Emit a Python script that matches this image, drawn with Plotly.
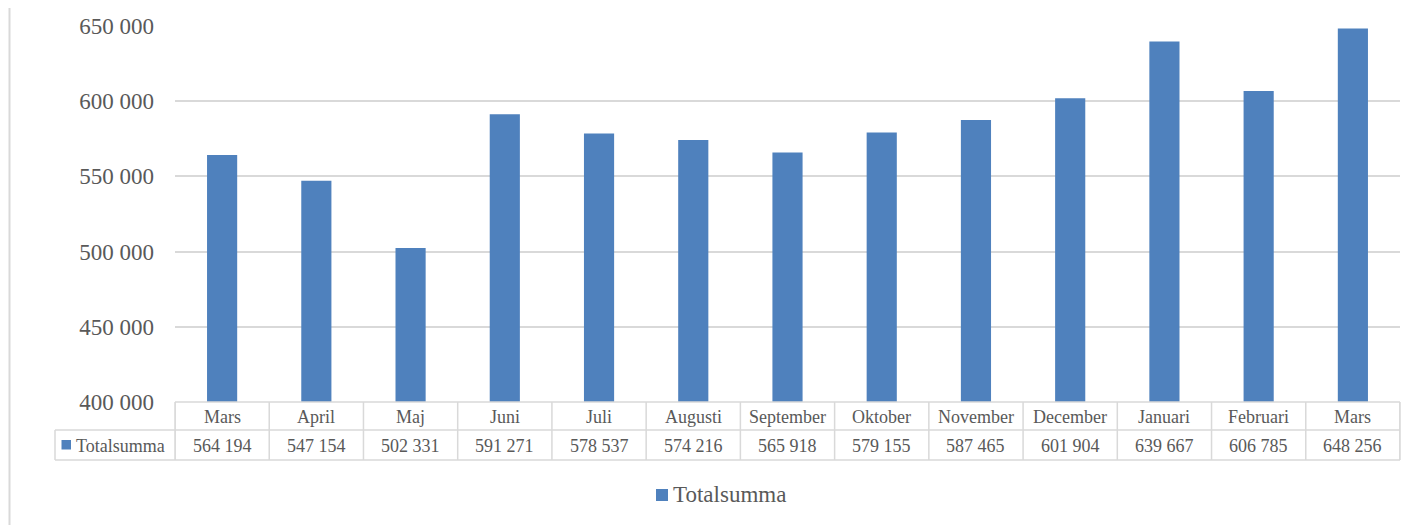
# Stapeldiagram med datatabell (Excel-stil) i Plotly.
import plotly.graph_objects as go

W, H = 1422, 525
OFF = 8  # sidans body-marginal

months = ["Mars", "April", "Maj", "Juni", "Juli", "Augusti", "September",
          "Oktober", "November", "December", "Januari", "Februari", "Mars"]
totals = [564194, 547154, 502331, 591271, 578537, 574216, 565918,
          579155, 587465, 601904, 639667, 606785, 648256]
series_name = "Totalsumma"
y_ticks = [400000, 450000, 500000, 550000, 600000, 650000]

BLUE = "#4F81BD"
GREY_TXT = "#595959"
GRID = "#D9D9D9"
FONT = "Liberation Serif"


def px_x(p):
    return (p - OFF) / W


def px_y(p):
    return (H - (p - OFF)) / H


def fmt(v):
    return f"{v:,}".replace(",", " ")


def key_box(x0, y0, size):
    return dict(type="rect", xref="paper", yref="paper",
                x0=px_x(x0), x1=px_x(x0 + size), y0=px_y(y0), y1=px_y(y0 + size),
                fillcolor=BLUE, line=dict(width=0))


def build_figure() -> go.Figure:
    idx = list(range(len(months)))
    fig = go.Figure()
    fig.add_trace(
        go.Bar(
            x=idx,
            y=totals,
            width=0.32,
            marker=dict(color=BLUE, line=dict(width=0)),
            name=series_name,
            hoverinfo="skip",
        )
    )

    # Tabellens linjer
    y_top, y_mid, y_bot = px_y(402), px_y(430), px_y(460)
    x_left, x_plot, x_right = px_x(55), px_x(175), px_x(1400)
    line = dict(color=GRID, width=1.5)
    shapes = []
    for i in range(len(months) + 1):
        shapes.append(dict(type="line", xref="x", yref="paper",
                           x0=i - 0.5, x1=i - 0.5, y0=y_top, y1=y_bot, line=line))
    shapes.append(dict(type="line", xref="paper", yref="paper",
                       x0=x_plot, x1=x_right, y0=y_top, y1=y_top, line=line))
    shapes.append(dict(type="line", xref="paper", yref="paper",
                       x0=x_left, x1=x_right, y0=y_mid, y1=y_mid, line=line))
    shapes.append(dict(type="line", xref="paper", yref="paper",
                       x0=x_left, x1=x_right, y0=y_bot, y1=y_bot, line=line))
    shapes.append(dict(type="line", xref="paper", yref="paper",
                       x0=x_left, x1=x_left, y0=y_mid, y1=y_bot, line=line))
    shapes.append(dict(type="line", xref="paper", yref="paper",
                       x0=x_plot, x1=x_plot, y0=y_top, y1=y_bot, line=line))
    shapes.append(dict(type="line", xref="paper", yref="paper",
                       x0=x_right, x1=x_right, y0=y_top, y1=y_bot, line=line))
    # Diagramramens vänsterkant
    shapes.append(dict(type="line", xref="paper", yref="paper",
                       x0=px_x(9.5), x1=px_x(9.5), y0=px_y(0), y1=px_y(530),
                       line=dict(color=GRID, width=2)))
    # Färgrutor: i tabellen och i förklaringen under
    shapes.append(key_box(61.5, 440, 9.5))
    shapes.append(key_box(656, 489, 12))

    annotations = []
    cell_font = dict(family=FONT, size=18, color=GREY_TXT)
    for i, (m, v) in enumerate(zip(months, totals)):
        annotations.append(dict(x=i, y=px_y(416.5), xref="x", yref="paper",
                                text=m, showarrow=False, font=cell_font,
                                xanchor="center", yanchor="middle"))
        annotations.append(dict(x=i, y=px_y(445.5), xref="x", yref="paper",
                                text=fmt(v), showarrow=False, font=cell_font,
                                xanchor="center", yanchor="middle"))
    annotations.append(dict(x=px_x(74), y=px_y(445.5), xref="paper", yref="paper",
                            text=series_name, showarrow=False, font=cell_font,
                            xanchor="left", yanchor="middle"))
    # Förklaring
    annotations.append(dict(x=px_x(671), y=px_y(494.5), xref="paper", yref="paper",
                            text=series_name, showarrow=False,
                            font=dict(family=FONT, size=23, color=GREY_TXT),
                            xanchor="left", yanchor="middle"))

    fig.update_layout(
        width=W,
        height=H,
        paper_bgcolor="white",
        plot_bgcolor="white",
        margin=dict(l=0, r=0, t=0, b=0, autoexpand=False),
        separators=", ",
        font=dict(family=FONT, color=GREY_TXT),
        xaxis=dict(
            domain=[px_x(175), px_x(1400)],
            range=[-0.5, len(months) - 0.5],
            showticklabels=False,
            showgrid=False,
            zeroline=False,
            showline=False,
            ticks="",
            automargin=False,
            fixedrange=True,
        ),
        yaxis=dict(
            domain=[px_y(402), px_y(26)],
            range=[400000, 650000],
            tickvals=y_ticks,
            tickformat=",d",
            tickfont=dict(family=FONT, size=23, color=GREY_TXT),
            ticklabelstandoff=20,
            showgrid=True,
            gridcolor=GRID,
            gridwidth=1.5,
            zeroline=False,
            showline=False,
            ticks="",
            automargin=False,
            fixedrange=True,
        ),
        showlegend=False,
        shapes=shapes,
        annotations=annotations,
    )
    return fig


fig = build_figure()
fig.write_html("out.html")
